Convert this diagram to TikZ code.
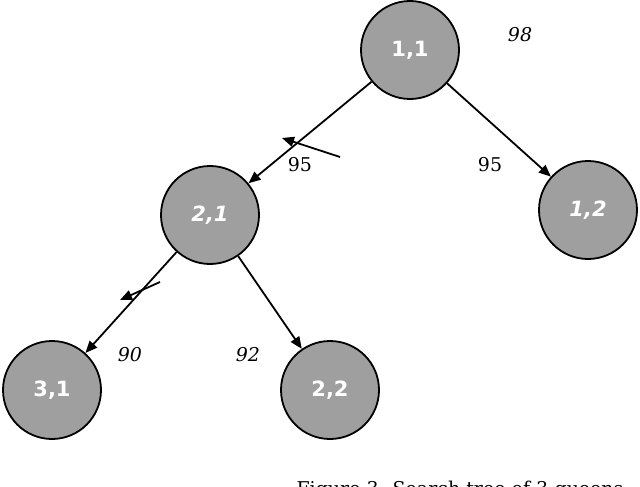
\documentclass[tikz,border=0pt]{standalone}
\usepackage{fontspec}
\setmainfont{DejaVu Serif}
\setsansfont{DejaVu Sans}
\usetikzlibrary{arrows.meta}
\begin{document}
\begin{tikzpicture}[x=1pt,y=-1pt,
  st/.style={circle,draw,line width=1.8pt,fill=gray!75,minimum size=98pt,inner sep=0pt,text=white,font=\sffamily\bfseries\fontsize{21}{21}\selectfont},
  ar/.style={line width=1.8pt,-{Triangle[length=12pt,width=10pt]}},
  lab/.style={font=\fontsize{19}{19}\selectfont}]
\useasboundingbox (0,0) rectangle (640,487);
\node[st] (a) at (410,50) {1,1};
\node[st] (b) at (210,215) {\itshape 2,1};
\node[st] (c) at (588,210) {\itshape 1,2};
\node[st] (d) at (52,390) {3,1};
\node[st] (e) at (330,390) {2,2};
\draw[ar] (a) -- (b);
\draw[ar] (a) -- (c);
\draw[ar] (b) -- (d);
\draw[ar] (b) -- (e);
\coordinate (p1) at (340,157); \coordinate (q1) at (282,138);
\coordinate (p2) at (160,282); \coordinate (q2) at (120,300);
\draw[ar] (p1) -- (q1);
\draw[ar] (p2) -- (q2);
\node[lab] (l1) at (300,165) {95};
\node[lab] (l2) at (490,165) {95};
\node[lab] (l3) at (520,35) {\itshape 98};
\node[lab] (l4) at (130,355) {\itshape 90};
\node[lab] (l5) at (248,355) {\itshape 92};
\begin{scope}
\clip (0,0) rectangle (640,487);
\node[lab,anchor=base west] (cap) at (293,495) {Figure 3. Search tree of 3-queens};
\end{scope}
\end{tikzpicture}
\end{document}
